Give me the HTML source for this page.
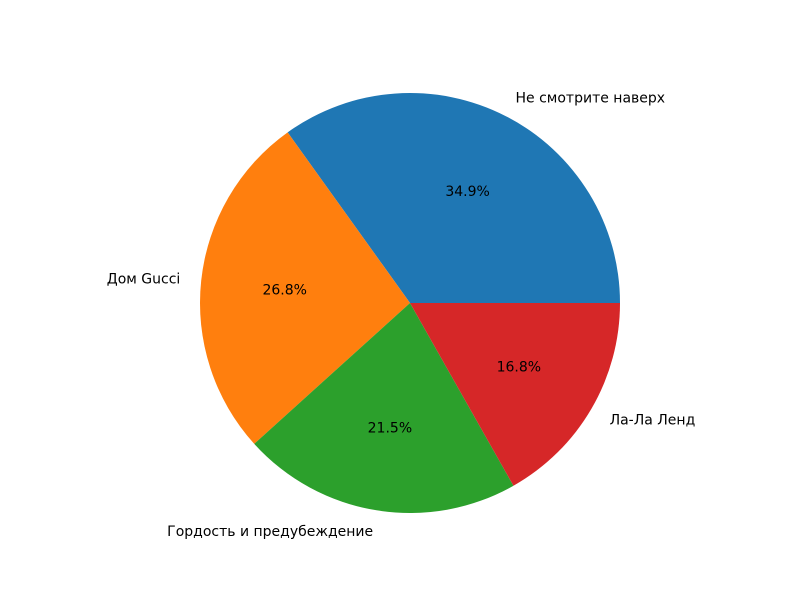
<!DOCTYPE html>
<html>
<head>
<meta charset="utf-8">
<style>
  html, body { margin: 0; padding: 0; background: #fff; }
  svg { display: block; }
  text { font-family: "DejaVu Sans", "Liberation Sans", sans-serif; font-size: 14px; fill: #000; }
</style>
</head>
<body>
<svg id="chart" width="800" height="600" viewBox="0 0 800 600" xmlns="http://www.w3.org/2000/svg">
  <g id="slices"></g>
  <g id="labels"></g>
</svg>
<script>
const categories = ["Не смотрите наверх", "Дом Gucci", "Гордость и предубеждение", "Ла-Ла Ленд"];
const values = [34.9, 26.8, 21.5, 16.8];
const colors = ["#1f77b4", "#ff7f0e", "#2ca02c", "#d62728"];

const cx = 410, cy = 303, r = 210;
const NS = "http://www.w3.org/2000/svg";
const total = values.reduce((a, b) => a + b, 0);
const slicesG = document.getElementById("slices");
const labelsG = document.getElementById("labels");

function pt(angleDeg, rad) {
  const a = angleDeg * Math.PI / 180;
  return [cx + rad * Math.cos(a), cy - rad * Math.sin(a)];
}

let start = 0;
values.forEach((v, i) => {
  const sweep = v / total * 360;
  const end = start + sweep;
  const [x1, y1] = pt(start, r);
  const [x2, y2] = pt(end, r);
  const large = sweep > 180 ? 1 : 0;
  const path = document.createElementNS(NS, "path");
  path.setAttribute("d", `M${cx},${cy} L${x1},${y1} A${r},${r} 0 ${large} 0 ${x2},${y2} Z`);
  path.setAttribute("fill", colors[i]);
  
  
  slicesG.appendChild(path);

  const mid = start + sweep / 2;
  const [lx, ly] = pt(mid, r * 1.1);
  const lab = document.createElementNS(NS, "text");
  lab.setAttribute("x", lx);
  lab.setAttribute("y", ly + 1);
  lab.setAttribute("dominant-baseline", "central");
  lab.setAttribute("text-anchor", lx >= cx ? "start" : "end");
  lab.textContent = categories[i];
  
  
  labelsG.appendChild(lab);

  const [px, py] = pt(mid, r * 0.6);
  const pct = document.createElementNS(NS, "text");
  pct.setAttribute("x", px);
  pct.setAttribute("y", py + 1);
  pct.setAttribute("dominant-baseline", "central");
  pct.setAttribute("text-anchor", "middle");
  pct.textContent = (v / total * 100).toFixed(1) + "%";
  
  
  labelsG.appendChild(pct);

  start = end;
});
</script>
</body>
</html>
